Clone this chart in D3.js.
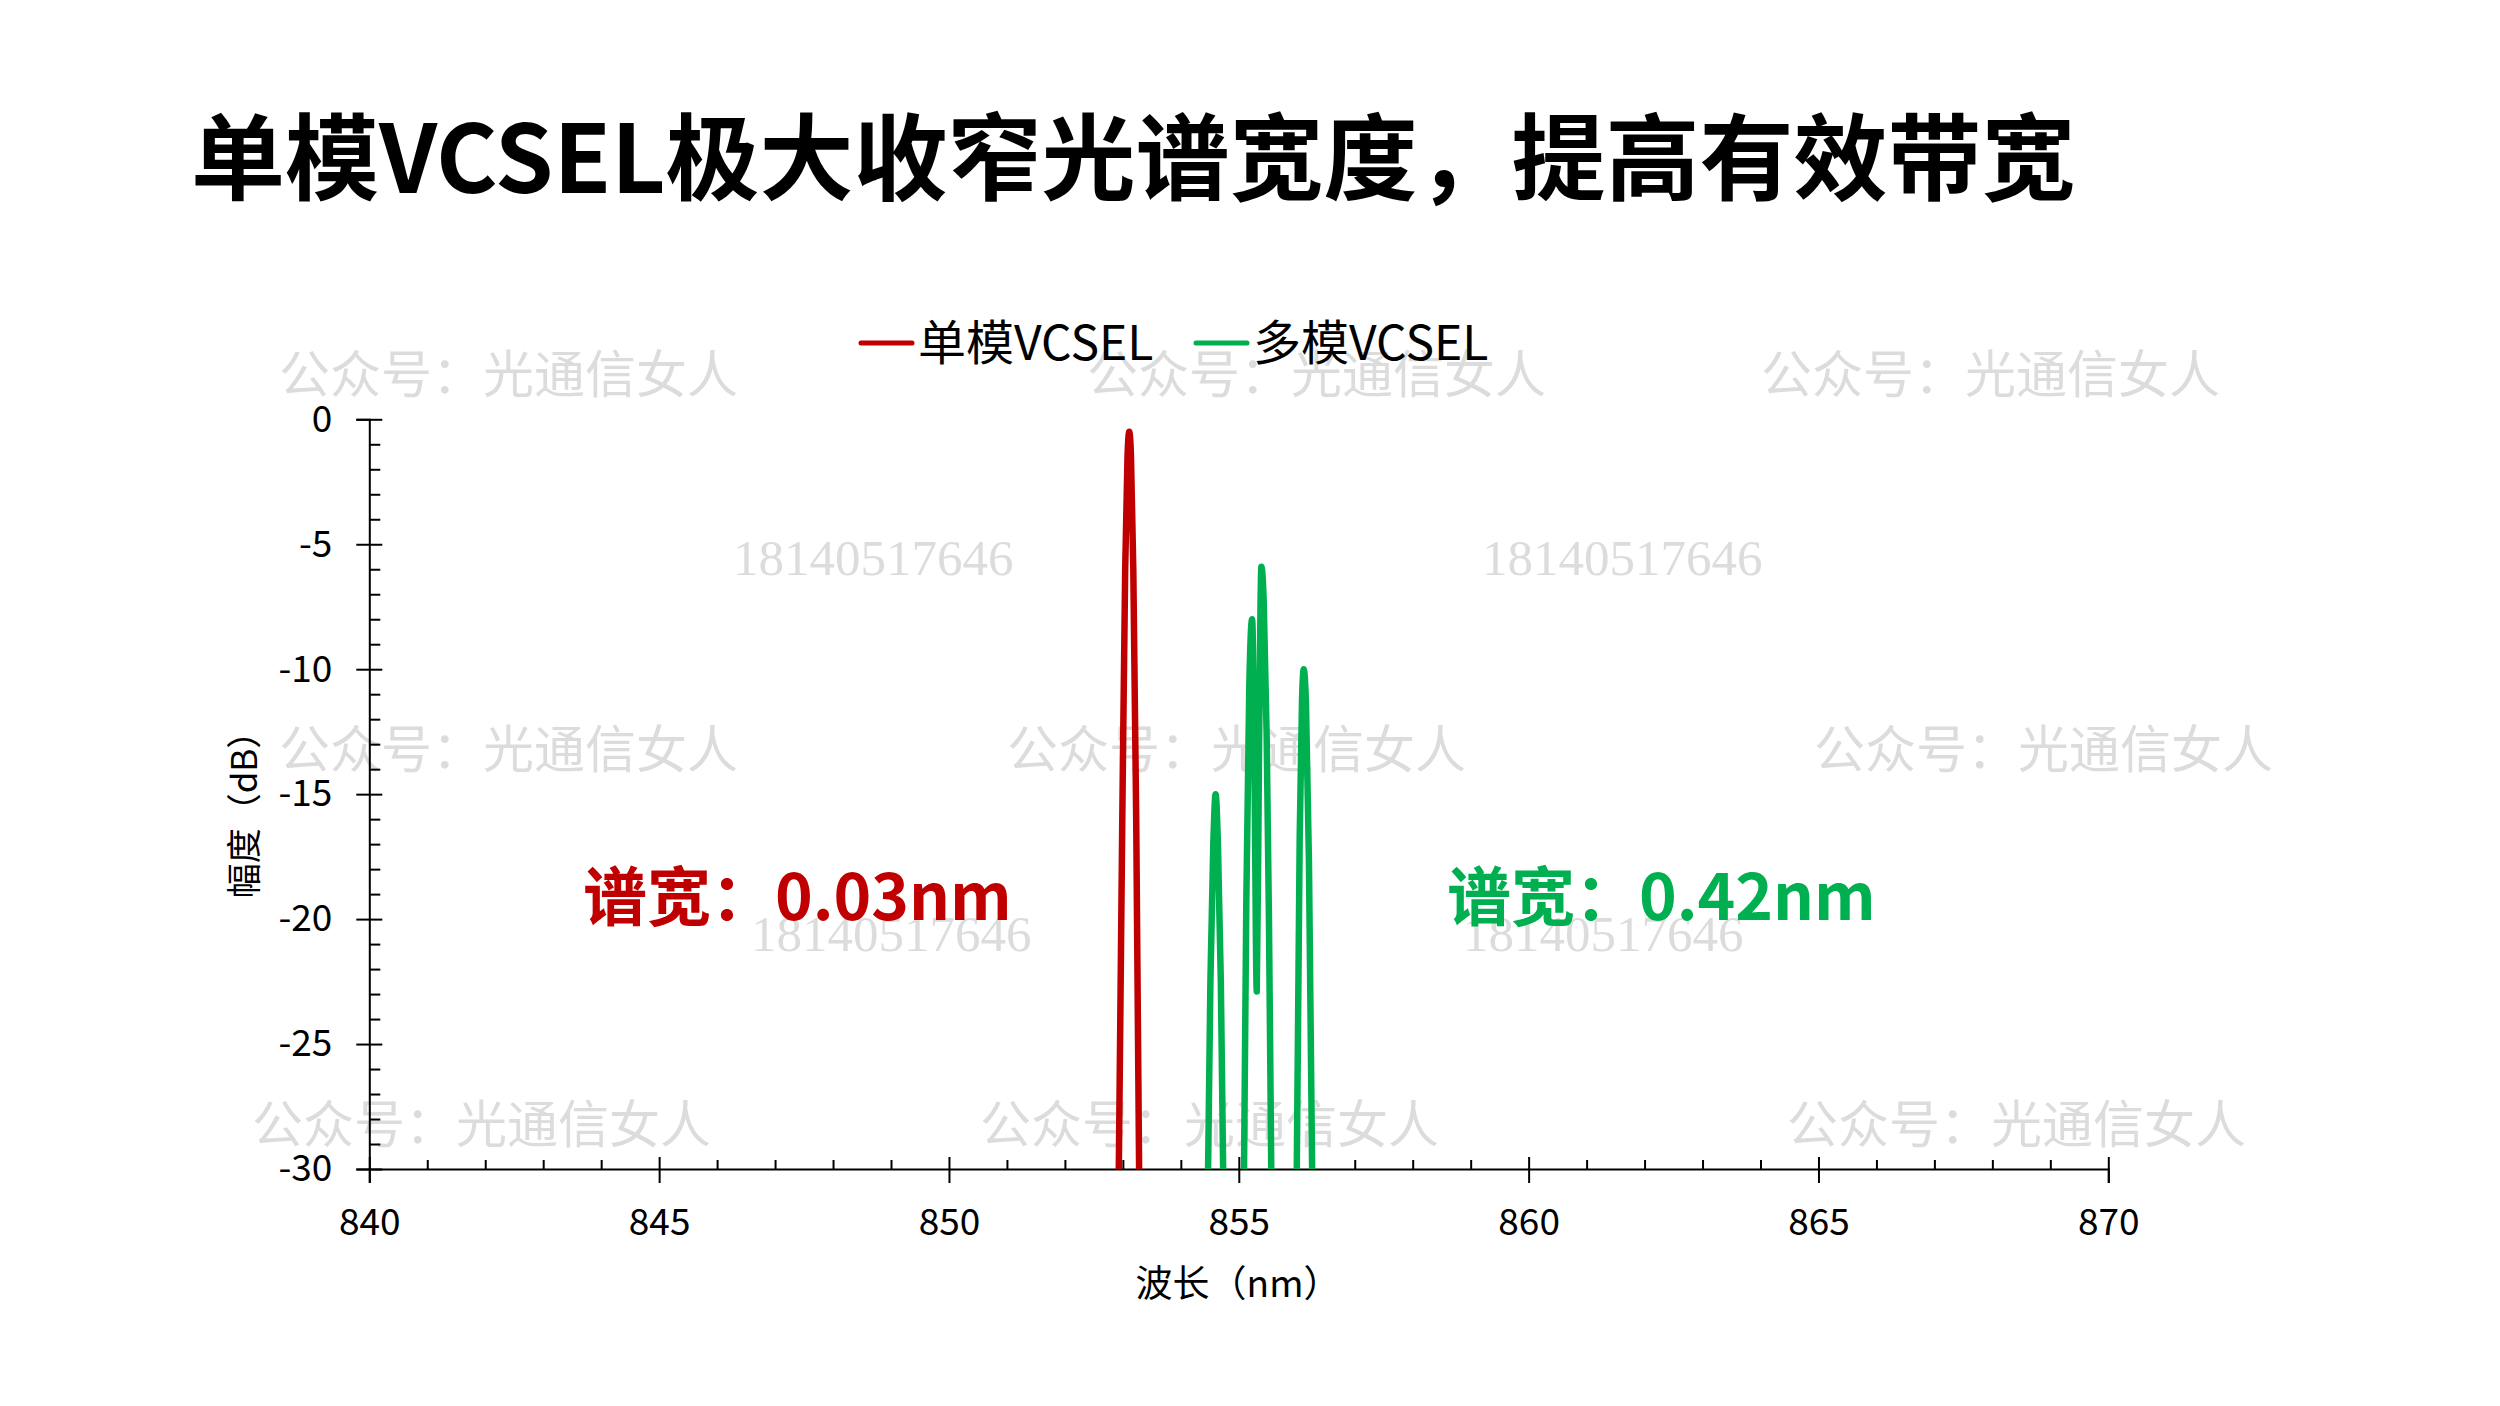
<!DOCTYPE html>
<html>
<head>
<meta charset="utf-8">
<script src="https://cdn.jsdelivr.net/npm/d3@7"></script>
<style>
  body { margin: 0; background: #fff; }
  svg { display: block; }
</style>
</head>
<body>
<svg id="chart" width="2500" height="1406"></svg>
<script>
// data
var wavelengthTicks = [840, 845, 850, 855, 860, 865, 870];
var dbTicks = [0, -5, -10, -15, -20, -25, -30];

var singleNm = [852.93, 852.99, 853.04, 853.08, 853.11, 853.14, 853.18, 853.23, 853.28];
var singleDb = [-30, -16, -6, -1.5, -0.5, -1.5, -6, -16, -30];

// null = gap between separate modes (curve is below the axis there)
var multiNm = [854.47, 854.51, 854.56, 854.60, 854.64, 854.69, 854.73, null,
               855.09, 855.13, 855.18, 855.23, 855.27, 855.31, 855.35, 855.39, 855.43, 855.48, 855.52, 855.56, null,
               856.00, 856.05, 856.09, 856.12, 856.16, 856.21, 856.265];
var multiDb = [-30, -22.5, -17, -15, -17, -22.5, -30, null,
               -30, -19.2, -10.8, -8, -14, -22.9, -13, -5.9, -7.3, -12.6, -20, -30, null,
               -30, -16.8, -11.3, -10, -11.5, -17.7, -30];

var seriesNames = ["单模VCSEL", "多模VCSEL"];
var seriesColors = ["#C00000", "#00B050"];
var widthLabels = ["谱宽：0.03nm", "谱宽：0.42nm"];

var svg = d3.select("#chart");
var font = "'Noto Sans CJK SC', 'Noto Sans', sans-serif";

var x = d3.scaleLinear().domain([840, 870]).range([369.3, 2108.3]);
var y = d3.scaleLinear().domain([0, -30]).range([419.3, 1169]);

// watermarks (background decoration)
var marks = [
  ["公众号：光通信女人", 279, 371], ["公众号：光通信女人", 1087, 371], ["公众号：光通信女人", 1761, 371],
  ["18140517646", 733, 558], ["18140517646", 1482, 558],
  ["公众号：光通信女人", 279, 746], ["公众号：光通信女人", 1007, 746], ["公众号：光通信女人", 1814, 746],
  ["18140517646", 751, 934], ["18140517646", 1463, 934],
  ["公众号：光通信女人", 252, 1121], ["公众号：光通信女人", 980, 1121], ["公众号：光通信女人", 1787, 1121]
];
svg.append("g").selectAll("text")
    .data(marks)
    .enter().append("text")
    .attr("x", function(d) { return d[1]; })
    .attr("y", function(d) { return d[2]; })
    .attr("dominant-baseline", "central")
    .style("font-family", function(d) { return d[0][0] === "1" ? "'Liberation Serif', serif" : font; })
    .style("font-size", "51px")
    .style("fill", "#dcdcdc")
    .text(function(d) { return d[0]; });

// title
svg.append("text")
    .attr("x", 191)
    .attr("y", 193)
    .style("font-family", font)
    .style("font-weight", "bold")
    .style("font-size", "94px")
    .style("fill", "#000")
    .text("单模VCSEL极大收窄光谱宽度，提高有效带宽");

// axes
var xAxis = svg.append("g")
    .attr("transform", "translate(0," + y(-30) + ")")
    .call(d3.axisBottom(x).tickValues(wavelengthTicks).tickSize(14).tickPadding(26).tickFormat(String));
xAxis.selectAll(".tick line").attr("y1", -12);
xAxis.selectAll("text").style("font-family", font).style("font-size", "37px").style("fill", "#000");

svg.append("g")
    .attr("transform", "translate(0," + y(-30) + ")")
    .call(d3.axisTop(x).tickValues(d3.range(841, 870, 1).filter(function(v) { return v % 5; })).tickSize(9).tickFormat(""))
    .select(".domain").remove();

var yAxis = svg.append("g")
    .attr("transform", "translate(" + x(840) + ",0)")
    .call(d3.axisLeft(y).tickValues(dbTicks).tickSize(13).tickPadding(24).tickFormat(String));
yAxis.selectAll(".tick line").attr("x1", 13);
yAxis.selectAll("text").style("font-family", font).style("font-size", "37px").style("fill", "#000");

svg.append("g")
    .attr("transform", "translate(" + x(840) + ",0)")
    .call(d3.axisRight(y).tickValues(d3.range(-1, -30, -1).filter(function(v) { return v % 5; })).tickSize(11).tickFormat(""))
    .select(".domain").remove();

svg.selectAll(".domain, .tick line").attr("stroke", "#000").attr("stroke-width", 2);

// axis titles
svg.append("text")
    .attr("transform", "translate(241,806) rotate(-90)")
    .attr("text-anchor", "middle")
    .attr("dominant-baseline", "central")
    .style("font-family", font)
    .style("font-size", "35px")
    .text("幅度（dB）");

svg.append("text")
    .attr("x", 1238)
    .attr("y", 1297)
    .attr("text-anchor", "middle")
    .style("font-family", font)
    .style("font-size", "37px")
    .text("波长（nm）");

// spectra
var line = d3.line()
    .defined(function(d) { return d[1] !== null; })
    .x(function(d) { return x(d[0]); })
    .y(function(d) { return y(d[1]); })
    .curve(d3.curveMonotoneX);

var series = [d3.zip(singleNm, singleDb), d3.zip(multiNm, multiDb)];
svg.append("g").selectAll("path")
    .data(series)
    .enter().append("path")
    .attr("d", line)
    .attr("fill", "none")
    .attr("stroke", function(d, i) { return seriesColors[i]; })
    .attr("stroke-width", 6.5)
    .attr("stroke-linejoin", "round");

// legend
var legendX = [861, 1196];
var legend = svg.append("g");
legend.selectAll("g").data(seriesNames)
    .enter().append("g")
    .each(function(d, i) {
        var g = d3.select(this);
        g.append("line")
            .attr("x1", legendX[i])
            .attr("x2", legendX[i] + 51)
            .attr("y1", 343)
            .attr("y2", 343)
            .attr("stroke", seriesColors[i])
            .attr("stroke-width", 5)
            .attr("stroke-linecap", "round");
        g.append("text")
            .attr("x", legendX[i] + 57)
            .attr("y", 360)
            .style("font-family", font)
            .style("font-size", "48px")
            .text(d);
    });

// spectral width labels
var labelX = [583, 1447];
svg.append("g").selectAll("text")
    .data(widthLabels)
    .enter().append("text")
    .attr("x", function(d, i) { return labelX[i]; })
    .attr("y", 920)
    .style("font-family", font)
    .style("font-weight", "bold")
    .style("font-size", "64px")
    .style("fill", function(d, i) { return seriesColors[i]; })
    .text(function(d) { return d; });
</script>
</body>
</html>
